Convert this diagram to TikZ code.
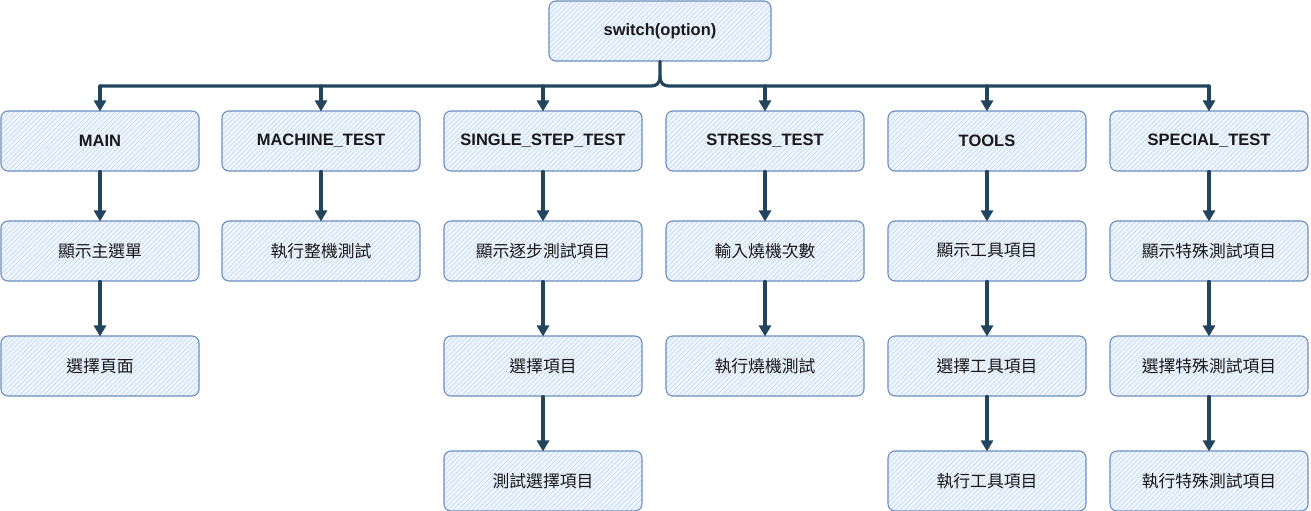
\documentclass[tikz,border=0pt]{standalone}
\usepackage{fontspec}
\setmainfont{Liberation Sans}
\newfontfamily\cjk{Noto Sans CJK TC}
\usetikzlibrary{arrows.meta,patterns.meta}
\definecolor{boxline}{HTML}{6C8EBF}
\definecolor{boxfill}{HTML}{DAE8FC}
\definecolor{hatch}{HTML}{C4D8F2}
\definecolor{conn}{HTML}{23445D}
\tikzset{
  box/.style={draw=boxline, line width=1.1pt, rounded corners=7pt,
    preaction={fill=boxfill!40},
    pattern={Lines[angle=45,distance=3.4pt,line width=0.7pt]}, pattern color=hatch,
    minimum width=198pt, minimum height=60pt, inner sep=0pt, text=black!90},
  en/.style={box, font=\fontsize{16.5}{18}\selectfont\bfseries},
  zh/.style={box, font=\fontsize{16.8}{18}\selectfont\cjk},
  link/.style={draw=conn, line width=3.2pt, line cap=round},
  arr/.style={link, -{Triangle[width=12pt,length=11pt]}, shorten >=-1pt},
}
\begin{document}
\begin{tikzpicture}[x=1pt,y=-1pt]
\useasboundingbox (0,0) rectangle (1311,511);
\node[en, minimum width=222pt] (sw) at (660,31) {switch(option)};
% row 1
\node[en] (main) at (100,141) {MAIN};
\node[en] (mach) at (321,141) {MACHINE\_TEST};
\node[en] (single) at (543,141) {SINGLE\_STEP\_TEST};
\node[en] (stress) at (765,141) {STRESS\_TEST};
\node[en] (tools) at (987,141) {TOOLS};
\node[en] (special) at (1209,141) {SPECIAL\_TEST};
% row 2
\node[zh] (m2) at (100,251) {顯示主選單};
\node[zh] (a2) at (321,251) {執行整機測試};
\node[zh] (s2) at (543,251) {顯示逐步測試項目};
\node[zh] (t2) at (765,251) {輸入燒機次數};
\node[zh] (o2) at (987,251) {顯示工具項目};
\node[zh] (p2) at (1209,251) {顯示特殊測試項目};
% row 3
\node[zh] (m3) at (100,366) {選擇頁面};
\node[zh] (s3) at (543,366) {選擇項目};
\node[zh] (t3) at (765,366) {執行燒機測試};
\node[zh] (o3) at (987,366) {選擇工具項目};
\node[zh] (p3) at (1209,366) {選擇特殊測試項目};
% row 4
\node[zh] (s4) at (543,481) {測試選擇項目};
\node[zh] (o4) at (987,481) {執行工具項目};
\node[zh] (p4) at (1209,481) {執行特殊測試項目};
% bus
\coordinate (bus) at (660,86);
\coordinate (busL) at (100,86);
\coordinate (busR) at (1209,86);
\coordinate (fork) at (660,76);
\draw[link] (sw.south) -- (fork) .. controls (660,84) and (656,86) .. (651,86) -- (busL);
\draw[link] (fork) .. controls (660,84) and (664,86) .. (669,86) -- (busR);
\foreach \n in {main,mach,single,stress,tools,special}
  \draw[arr] (\n.north |- bus) -- (\n.north);
% vertical chains
\draw[arr] (main) -- (m2);
\draw[arr] (m2) -- (m3);
\draw[arr] (mach) -- (a2);
\draw[arr] (single) -- (s2);
\draw[arr] (s2) -- (s3);
\draw[arr] (s3) -- (s4);
\draw[arr] (stress) -- (t2);
\draw[arr] (t2) -- (t3);
\draw[arr] (tools) -- (o2);
\draw[arr] (o2) -- (o3);
\draw[arr] (o3) -- (o4);
\draw[arr] (special) -- (p2);
\draw[arr] (p2) -- (p3);
\draw[arr] (p3) -- (p4);
\end{tikzpicture}
\end{document}
